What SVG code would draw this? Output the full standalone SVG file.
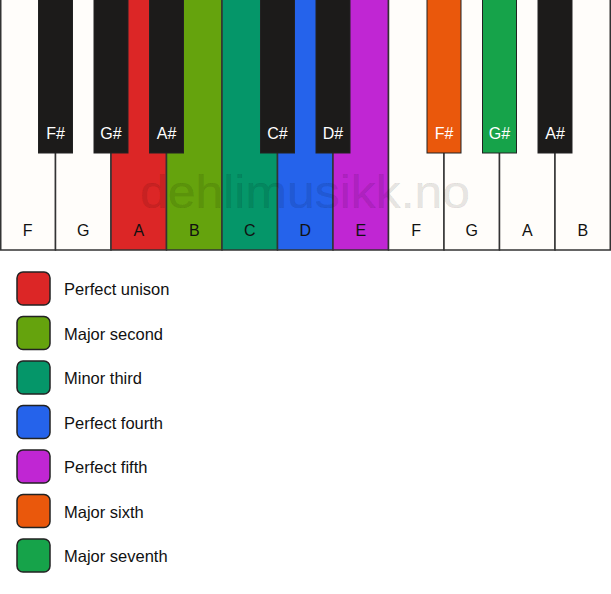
<svg xmlns="http://www.w3.org/2000/svg" width="611" height="594" viewBox="0 0 611 594">
<style>
.w{fill:#fffdfa;stroke:#333;stroke-width:1.5}
.b{fill:#1c1b1a;stroke:#222;stroke-width:1}
.lw{font-family:"Liberation Sans",Arial,sans-serif;font-size:16px;fill:#111;text-anchor:middle}
.lb{font-family:"Liberation Sans",Arial,sans-serif;font-size:16px;fill:#fff;text-anchor:middle}
.sw{stroke:#222;stroke-width:1.5}
.lg{font-family:"Liberation Sans",Arial,sans-serif;font-size:16.5px;fill:#111}
.wm{font-family:"Liberation Sans",Arial,sans-serif;font-size:46px;fill:#000;fill-opacity:0.1;stroke:#000;stroke-opacity:0.05;stroke-width:1}
</style>
<rect width="611" height="594" fill="#ffffff"/>
<g id="white-keys">
<g id="key-F1"><rect class="w" x="0.75" y="-1" width="54.75" height="251"/><text class="lw" x="27.75" y="236">F</text></g>
<g id="key-G1"><rect class="w" x="55.5" y="-1" width="55.5" height="251"/><text class="lw" x="83.25" y="236">G</text></g>
<g id="key-A1"><rect class="w" x="111" y="-1" width="55.5" height="251" style="fill:#dc2626"/><text class="lw" x="138.75" y="236">A</text></g>
<g id="key-B1"><rect class="w" x="166.5" y="-1" width="55.5" height="251" style="fill:#65a30d"/><text class="lw" x="194.25" y="236">B</text></g>
<g id="key-C1"><rect class="w" x="222" y="-1" width="55.5" height="251" style="fill:#059669"/><text class="lw" x="249.75" y="236">C</text></g>
<g id="key-D1"><rect class="w" x="277.5" y="-1" width="55.5" height="251" style="fill:#2563eb"/><text class="lw" x="305.25" y="236">D</text></g>
<g id="key-E1"><rect class="w" x="333" y="-1" width="55.5" height="251" style="fill:#c026d3"/><text class="lw" x="360.75" y="236">E</text></g>
<g id="key-F2"><rect class="w" x="388.5" y="-1" width="55.5" height="251"/><text class="lw" x="416.25" y="236">F</text></g>
<g id="key-G2"><rect class="w" x="444" y="-1" width="55.5" height="251"/><text class="lw" x="471.75" y="236">G</text></g>
<g id="key-A2"><rect class="w" x="499.5" y="-1" width="55.5" height="251"/><text class="lw" x="527.25" y="236">A</text></g>
<g id="key-B2"><rect class="w" x="555" y="-1" width="55.25" height="251"/><text class="lw" x="582.75" y="236">B</text></g>
</g>
<text class="wm" x="305" y="208" text-anchor="middle" textLength="330" lengthAdjust="spacingAndGlyphs">dehlimusikk.no</text>
<g id="black-keys">
<g id="key-Fs1"><rect class="b" x="38.5" y="-1" width="34" height="154"/><text class="lb" x="55.5" y="139">F#</text></g>
<g id="key-Gs1"><rect class="b" x="94" y="-1" width="34" height="154"/><text class="lb" x="111" y="139">G#</text></g>
<g id="key-As1"><rect class="b" x="149.5" y="-1" width="34" height="154"/><text class="lb" x="166.5" y="139">A#</text></g>
<g id="key-Cs1"><rect class="b" x="260.5" y="-1" width="34" height="154"/><text class="lb" x="277.5" y="139">C#</text></g>
<g id="key-Ds1"><rect class="b" x="316" y="-1" width="34" height="154"/><text class="lb" x="333" y="139">D#</text></g>
<g id="key-Fs2"><rect class="b" x="427" y="-1" width="34" height="154" style="fill:#ea580c"/><text class="lb" x="444" y="139">F#</text></g>
<g id="key-Gs2"><rect class="b" x="482.5" y="-1" width="34" height="154" style="fill:#16a34a"/><text class="lb" x="499.5" y="139">G#</text></g>
<g id="key-As2"><rect class="b" x="538" y="-1" width="34" height="154"/><text class="lb" x="555" y="139">A#</text></g>
</g>
<g id="connectors"></g>
<g id="legend">
<g id="leg-unison"><rect class="sw" x="17" y="272" width="33" height="33" rx="6" fill="#dc2626"/><text class="lg" x="64" y="295">Perfect unison</text></g>
<g id="leg-second"><rect class="sw" x="17" y="316.5" width="33" height="33" rx="6" fill="#65a30d"/><text class="lg" x="64" y="339.5">Major second</text></g>
<g id="leg-third"><rect class="sw" x="17" y="361" width="33" height="33" rx="6" fill="#059669"/><text class="lg" x="64" y="384">Minor third</text></g>
<g id="leg-fourth"><rect class="sw" x="17" y="405.5" width="33" height="33" rx="6" fill="#2563eb"/><text class="lg" x="64" y="428.5">Perfect fourth</text></g>
<g id="leg-fifth"><rect class="sw" x="17" y="450" width="33" height="33" rx="6" fill="#c026d3"/><text class="lg" x="64" y="473">Perfect fifth</text></g>
<g id="leg-sixth"><rect class="sw" x="17" y="494.5" width="33" height="33" rx="6" fill="#ea580c"/><text class="lg" x="64" y="517.5">Major sixth</text></g>
<g id="leg-seventh"><rect class="sw" x="17" y="539" width="33" height="33" rx="6" fill="#16a34a"/><text class="lg" x="64" y="562">Major seventh</text></g>
</g>
</svg>
